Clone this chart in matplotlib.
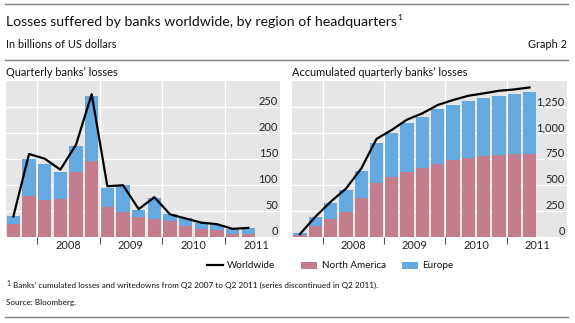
import matplotlib
matplotlib.use("Agg")
import matplotlib.pyplot as plt
import matplotlib.transforms as mtransforms
from matplotlib.lines import Line2D
from matplotlib.patches import Rectangle

plt.rcParams["font.family"] = ["Lato", "DejaVu Sans"]

# ---------------------------------------------------------------------------
# Data (billions of USD), Q3 2007 .. Q2 2011
# ---------------------------------------------------------------------------
quarters = ["Q3 07", "Q4 07", "Q1 08", "Q2 08", "Q3 08", "Q4 08",
            "Q1 09", "Q2 09", "Q3 09", "Q4 09", "Q1 10", "Q2 10",
            "Q3 10", "Q4 10", "Q1 11", "Q2 11"]

q_north_america = [25, 78, 70, 72, 124, 145, 57, 48, 38, 34, 30, 20, 15, 13, 6, 5]
q_europe = [14, 71, 70, 53, 50, 125, 37, 51, 14, 41, 13, 15, 11, 9, 8, 11]
q_worldwide = [39, 159, 150, 129, 177, 274, 97, 99, 53, 76, 43, 35, 27, 24, 15, 17]

acc_north_america = [16, 102, 169, 242, 373, 517, 574, 625, 663, 702, 733, 756,
                     772, 784, 794, 800]
acc_europe = [16, 83, 153, 211, 255, 382, 421, 469, 485, 522, 536, 551,
              561, 571, 577, 587]
acc_worldwide = [25, 191, 335, 462, 654, 940, 1027, 1126, 1186, 1266, 1314,
                 1355, 1378, 1403, 1416, 1435]

years = ["2008", "2009", "2010", "2011"]
year_bounds = [1.5, 5.5, 9.5, 13.5]
year_centres = [3.5, 7.5, 11.5, 15.5]

C_NA = "#C47D8D"
C_EU = "#64A9E0"
C_BG = "#E6E6E6"
C_RULE = "#7F7F7F"
FS = 7.9

W, H = 575, 323
fig = plt.figure(figsize=(W / 100, H / 100), dpi=100)


def px(x0, y0, x1, y1):
    """Pixel box (top-left origin) -> figure fraction rect."""
    return [x0 / W, 1 - y1 / H, (x1 - x0) / W, (y1 - y0) / H]


def draw_panel(ax, na, eu, ww, ymax, yticks, ylabels, xlim, width):
    x = range(len(na))
    ax.set_facecolor(C_BG)
    for s in ax.spines.values():
        s.set_visible(False)
    ax.bar(x, na, width=width, color=C_NA, zorder=2)
    ax.bar(x, eu, bottom=na, width=width, color=C_EU, zorder=2)
    ax.plot(x, ww, color="black", linewidth=1.6, zorder=3)
    ax.set_xlim(*xlim)
    ax.set_ylim(0, ymax)

    # white grid lines
    for yv in yticks:
        ax.axhline(yv, color="white", linewidth=0.9, zorder=1)
    for xb in year_bounds:
        ax.axvline(xb, color="white", linewidth=0.9, zorder=1)

    # y labels sit inside the plot, just above each grid line
    ax.set_yticks([])
    trans = mtransforms.offset_copy(
        mtransforms.blended_transform_factory(ax.transAxes, ax.transData),
        fig=fig, x=-2, y=5, units="dots")
    for yv, lab in zip(yticks, ylabels):
        ax.text(1.0, yv, lab, transform=trans, ha="right", va="center",
                fontsize=FS, color="#222222", zorder=4)

    # year boundary ticks below the axis, year labels centred on the year
    ax.set_xticks(year_bounds)
    ax.set_xticklabels([])
    ax.tick_params(axis="x", length=5, width=0.8, color="#555555",
                   direction="out", pad=0)
    for xc, lab in zip(year_centres, years):
        ax.text(xc, -0.055, lab, transform=ax.get_xaxis_transform(),
                ha="center", va="center", fontsize=FS, color="#222222",
                clip_on=False)


ax1 = fig.add_axes(px(6, 80.7, 280, 236.7))
draw_panel(ax1, q_north_america, q_europe, q_worldwide, 300,
           [0, 50, 100, 150, 200, 250],
           ["0", "50", "100", "150", "200", "250"],
           (-0.47, 17.02), 0.85)

ax2 = fig.add_axes(px(291.7, 80.7, 566.7, 236.7))
draw_panel(ax2, acc_north_america, acc_europe, acc_worldwide, 1500,
           [0, 250, 500, 750, 1000, 1250],
           ["0", "250", "500", "750", "1,000", "1,250"],
           (-0.54, 17.43), 0.87)

# ---------------------------------------------------------------------------
# Header, rules and footer
# ---------------------------------------------------------------------------
def rule(y):
    fig.add_artist(Line2D([5 / W, 568 / W], [1 - y / H, 1 - y / H],
                          color=C_RULE, linewidth=1.0))


def ftext(x, y, s, **kw):
    kw.setdefault("fontsize", FS)
    kw.setdefault("color", "#111111")
    return fig.text(x / W, 1 - y / H, s, va="center", **kw)


rule(4)
rule(59.5)
rule(317)

title = ftext(6, 21.5,
              "Losses suffered by banks worldwide, by region of headquarters",
              fontsize=10.2)
fig.canvas.draw()
title_right = title.get_window_extent().x1
ftext(title_right + 0.5, 17, "1", fontsize=6)

ftext(6, 44.5, "In billions of US dollars")
ftext(567, 44.5, "Graph 2", ha="right")
ftext(6, 72, "Quarterly banks’ losses")
ftext(292, 72, "Accumulated quarterly banks’ losses")

# legend, laid out by hand to keep the uneven gaps of the original
LEG_Y = 265
fig.add_artist(Line2D([207 / W, 223 / W], [1 - LEG_Y / H] * 2,
                      color="black", linewidth=1.6))
ftext(227, LEG_Y, "Worldwide", fontsize=7.1)
fig.add_artist(Rectangle((301 / W, 1 - (LEG_Y + 3.5) / H), 16 / W, 7 / H,
                         facecolor=C_NA, edgecolor="none"))
ftext(322, LEG_Y, "North America", fontsize=7.1)
fig.add_artist(Rectangle((402 / W, 1 - (LEG_Y + 3.5) / H), 16 / W, 7 / H,
                         facecolor=C_EU, edgecolor="none"))
ftext(422, LEG_Y, "Europe", fontsize=7.1)

ftext(6, 283.5, "1", fontsize=4.8)
ftext(13, 285, "Banks’ cumulated losses and writedowns from Q2 2007 to Q2 2011 "
      "(series discontinued in Q2 2011).", fontsize=5.85)
ftext(6, 303, "Source: Bloomberg.", fontsize=5.9)

fig.savefig("out.png", dpi=100)
